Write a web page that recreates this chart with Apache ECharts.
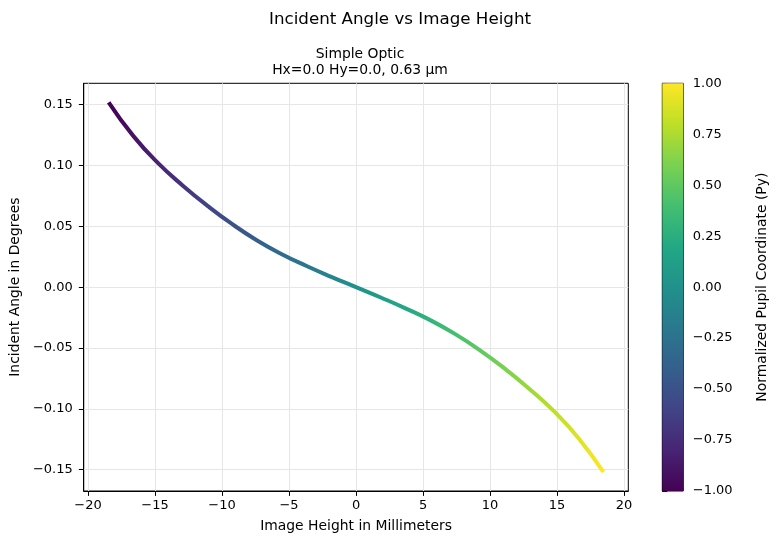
<!DOCTYPE html>
<html>
<head>
<meta charset="utf-8">
<script src="https://cdn.jsdelivr.net/npm/echarts@6/dist/echarts.min.js"></script>
<style>
html,body{margin:0;padding:0;background:#fff;}
#chart{width:779px;height:544px;}
</style>
</head>
<body>
<div id="chart"></div>
<script>
// Data
var pupilPy = [-1.0,-0.9,-0.8,-0.7,-0.6,-0.5,-0.4,-0.3,-0.2,-0.1,0,0.1,0.2,0.3,0.4,0.5,0.6,0.7,0.8,0.9,1.0];
var imageHeight = [-18.46,-16.61,-14.77,-12.92,-11.08,-9.23,-7.38,-5.54,-3.69,-1.85,0,1.85,3.69,5.54,7.38,9.23,11.08,12.92,14.77,16.61,18.46];
var incidentAngle = [0.1519,0.1241,0.1019,0.0834,0.0668,0.0517,0.0384,0.0271,0.0174,0.0085,0,-0.0085,-0.0174,-0.0271,-0.0384,-0.0517,-0.0668,-0.0834,-0.1019,-0.1241,-0.1519];
var xTicks = [-20,-15,-10,-5,0,5,10,15,20];
var yTicks = [-0.15,-0.10,-0.05,0,0.05,0.10,0.15];
var viridis = ['#440154','#482475','#414487','#355f8d','#2a788e','#21918c','#22a884','#44bf70','#7ad151','#bddf26','#fde725'];

var FONT = 'DejaVu Sans';
function fmt(v, d){ var s = Number(v).toFixed(d); if (Math.abs(v) < 1e-12) s = (0).toFixed(d); return s.replace('-', '\u2212'); }

var lineData = imageHeight.map(function(x, i){ return [x, incidentAngle[i], pupilPy[i]]; });

var chart = echarts.init(document.getElementById('chart'), null, {renderer:'canvas'});
var axisLineStyle = {color:'#000', width:1};
var option = {
  animation: false,
  backgroundColor: '#fff',
  textStyle: {fontFamily: FONT},
  title: [
    {text:'Incident Angle vs Image Height', left: 395, top: 6, textAlign:'center',
     textStyle:{fontFamily:FONT, fontSize:16.7, fontWeight:'normal', color:'#000'}},
    {text:'Simple Optic\nHx=0.0 Hy=0.0, 0.63 \u00b5m', left: 355, top: 41, textAlign:'center',
     textStyle:{fontFamily:FONT, fontSize:13.9, fontWeight:'normal', color:'#000', lineHeight:16, align:'center'}}
  ],
  grid: [
    {left:82, top:83.3, width:546.3, height:407.7, show:true, borderColor:'#000', borderWidth:1, backgroundColor:'transparent'},
    {left:662.3, top:83.3, width:21, height:407.7, show:true, borderColor:'#000', borderWidth:1, backgroundColor:'transparent'}
  ],
  visualMap: {
    type:'continuous', show:false, dimension:0, seriesIndex:0,
    min: imageHeight[0], max: imageHeight[imageHeight.length-1],
    inRange:{color: viridis}
  },
  xAxis: [
    {type:'value', gridIndex:0, min:-20.32, max:20.32,
     name:'Image Height in Millimeters', nameLocation:'middle', nameGap:28,
     nameTextStyle:{fontFamily:FONT, fontSize:13.9, color:'#000'},
     axisLine:{show:true, onZero:false, lineStyle:axisLineStyle},
     axisTick:{show:true, inside:false, length:4.9, lineStyle:axisLineStyle, customValues:xTicks},
     axisLabel:{show:true, margin:8, fontFamily:FONT, fontSize:13, color:'#000', customValues:xTicks,
       formatter:function(v){ return fmt(v,0); }},
     splitLine:{show:true, lineStyle:{color:'#e6e6e6', width:1}}
    },
    {type:'value', gridIndex:1, min:0, max:1, show:false}
  ],
  yAxis: [
    {type:'value', gridIndex:0, min:-0.1675, max:0.1675,
     name:'Incident Angle in Degrees', nameLocation:'middle', nameGap:58,
     nameTextStyle:{fontFamily:FONT, fontSize:13.9, color:'#000'},
     axisLine:{show:true, onZero:false, lineStyle:axisLineStyle},
     axisTick:{show:true, inside:false, length:4.9, lineStyle:axisLineStyle, customValues:yTicks},
     axisLabel:{show:true, margin:11, fontFamily:FONT, fontSize:13, color:'#000', customValues:yTicks,
       formatter:function(v){ return fmt(v,2); }},
     splitLine:{show:true, lineStyle:{color:'#e6e6e6', width:1}}
    },
    {type:'value', gridIndex:1, min:-1, max:1, interval:0.25, position:'right',
     name:'Normalized Pupil Coordinate (Py)', nameLocation:'middle', nameGap:72, nameRotate:90,
     nameTextStyle:{fontFamily:FONT, fontSize:13.9, color:'#000'},
     axisLine:{show:true, lineStyle:axisLineStyle},
     axisTick:{show:true, inside:false, length:4.9, lineStyle:axisLineStyle},
     axisLabel:{show:true, margin:9.5, fontFamily:FONT, fontSize:13, color:'#000',
       formatter:function(v){ return fmt(v,2); }},
     splitLine:{show:false}
    }
  ],
  series: [
    {type:'line', xAxisIndex:0, yAxisIndex:0, data: lineData, smooth:0.5, showSymbol:false,
     encode:{x:0, y:1},
     lineStyle:{width:4, cap:'butt'}, z:5},
    {type:'custom', xAxisIndex:1, yAxisIndex:1, data:[[0, -1, 1]],
     renderItem:function(params, api){
       var p0 = api.coord([0, api.value(2)]);
       var p1 = api.coord([1, api.value(1)]);
       var stops = viridis.map(function(c, i){ return {offset: i/(viridis.length-1), color:c}; });
       return {type:'rect', shape:{x:p0[0], y:p0[1], width:p1[0]-p0[0], height:p1[1]-p0[1]},
         style:{fill:new echarts.graphic.LinearGradient(0,1,0,0, stops)}};
     }, z:1}
  ]
};
chart.setOption(option);
</script>
</body>
</html>
